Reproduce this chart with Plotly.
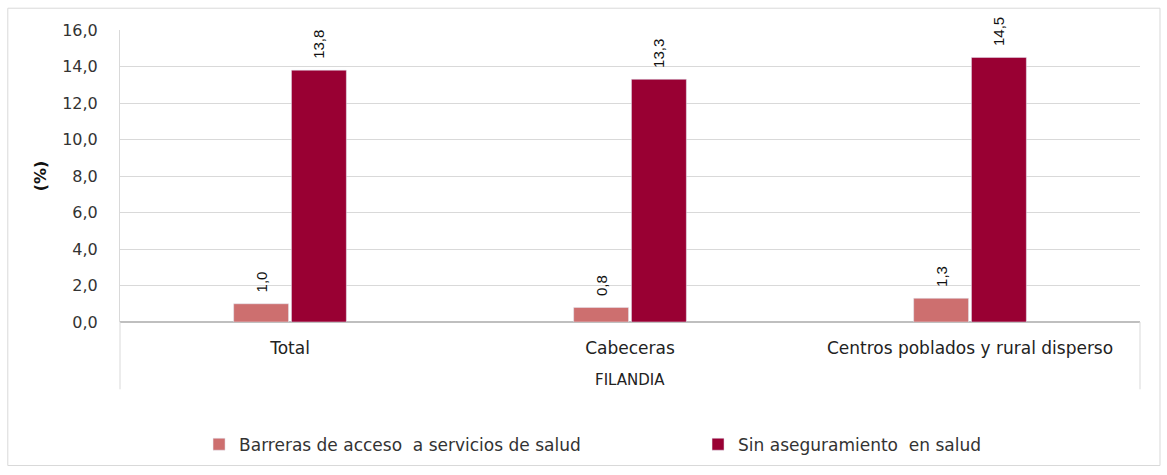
import plotly.graph_objects as go

group = "FILANDIA"
categories = ["Total", "Cabeceras", "Centros poblados y rural disperso"]
barreras = [1.0, 0.8, 1.3]
sin_aseguramiento = [13.8, 13.3, 14.5]
y_ticks = [0, 2, 4, 6, 8, 10, 12, 14, 16]

wide_font = "DejaVu Sans, Verdana, sans-serif"
label_font = "Liberation Sans, Arial, sans-serif"
grid = "#d9d9d9"


def fmt(v):
    # comma decimal, padded so the rotated label sits clear of the bar top
    return "  " + f"{v:.1f}".replace(".", ",")


fig = go.Figure()
fig.add_trace(go.Bar(
    x=categories, y=barreras, name="Barreras de acceso  a servicios de salud",
    marker_color="#CD6F6F", legend="legend",
    text=[fmt(v) for v in barreras],
    textposition="outside", textangle=-90, cliponaxis=False,
    textfont=dict(family=label_font, color="#111111", size=15),
))
fig.add_trace(go.Bar(
    x=categories, y=sin_aseguramiento, name="Sin aseguramiento  en salud",
    marker_color="#990033", legend="legend2",
    text=[fmt(v) for v in sin_aseguramiento],
    textposition="outside", textangle=-90, cliponaxis=False,
    textfont=dict(family=label_font, color="#111111", size=15),
))

legend_style = dict(orientation="h", xanchor="left", y=-0.42, yanchor="middle",
                    font=dict(family=wide_font, size=17, color="#333333"),
                    itemwidth=30, bgcolor="rgba(0,0,0,0)")

fig.update_layout(
    width=1167, height=475,
    margin=dict(l=120, r=27, t=30, b=150),
    paper_bgcolor="white", plot_bgcolor="white",
    separators=",.",
    font=dict(family=wide_font, size=14, color="#333333"),
    barmode="group", bargap=0.66, bargroupgap=0.05,
    showlegend=True,
    legend=dict(x=0.0775, **legend_style),
    legend2=dict(x=0.5667, **legend_style),
    xaxis=dict(showgrid=False, showline=False, ticks="", ticklabelstandoff=14,
               tickfont=dict(family=wide_font, size=17, color="#222222")),
    yaxis=dict(range=[0, 16], tickvals=y_ticks, tickformat=".1f",
               gridcolor=grid, showline=True, linecolor=grid,
               zeroline=True, zerolinecolor="#bfbfbf", ticklabelstandoff=18,
               title=dict(text="<b>(%)</b>", standoff=11,
                          font=dict(family=wide_font, size=16, color="#111111")),
               tickfont=dict(family=wide_font, size=16, color="#333333")),
    annotations=[dict(text=group, xref="paper", yref="paper", x=0.5, y=-0.197,
                      showarrow=False, yanchor="middle",
                      font=dict(family=wide_font, size=15, color="#222222"))],
    shapes=[
        dict(type="rect", xref="paper", yref="paper",
             x0=-0.11, x1=1.0196, y0=-0.4915, y1=1.0746,
             line=dict(color=grid, width=1), layer="below"),
        dict(type="line", xref="paper", yref="paper", x0=0, x1=0, y0=0, y1=-0.2305,
             line=dict(color=grid, width=1)),
        dict(type="line", xref="paper", yref="paper", x0=1, x1=1, y0=0, y1=-0.2305,
             line=dict(color=grid, width=1)),
    ],
)

fig.write_html("out.html")
